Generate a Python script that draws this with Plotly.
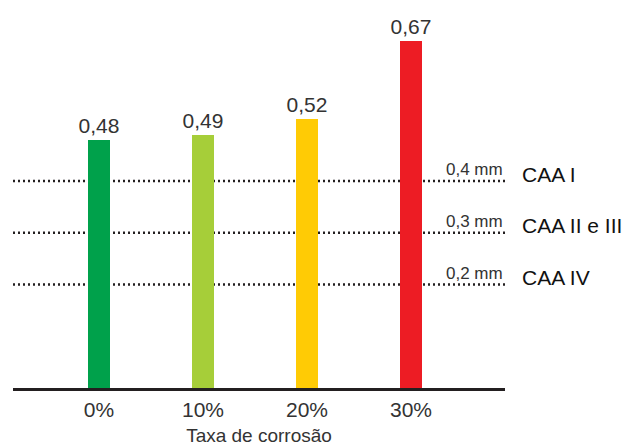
import plotly.graph_objects as go

categories = ["0%", "10%", "20%", "30%"]
values = [0.48, 0.49, 0.52, 0.67]
bar_colors = ["#00A14B", "#A6CE39", "#FFCB05", "#ED1C24"]

limits = [0.4, 0.3, 0.2]
limit_labels = ["0,4 mm", "0,3 mm", "0,2 mm"]
class_labels = ["CAA I", "CAA II e III", "CAA IV"]

x_title = "Taxa de corrosão"

FONT = "Arial, 'Liberation Sans', sans-serif"
TXT = "#231F20"

xpos = list(range(len(categories)))

fig = go.Figure()
fig.add_trace(go.Bar(
    x=xpos, y=values, width=0.21,
    marker=dict(color=bar_colors, line=dict(width=0)),
    texttemplate="%{y:.2f}", textposition="outside", constraintext="none",
    textfont=dict(family=FONT, size=21, color="#333333"),
    cliponaxis=False, showlegend=False,
))

for v, lab, cls in zip(limits, limit_labels, class_labels):
    fig.add_shape(type="line", xref="paper", yref="y", x0=0, x1=1, y0=v, y1=v,
                  line=dict(color=TXT, width=2.5, dash="2px,3px"), layer="below")
    fig.add_annotation(x=3.9, y=v, xref="x", yref="y", text=lab, showarrow=False,
                       xanchor="right", yanchor="bottom", yshift=0,
                       font=dict(family=FONT, size=17, color="#333333"))
    fig.add_annotation(x=1.0305, y=v, xref="paper", yref="y", text=cls, showarrow=False,
                       xanchor="left", yanchor="middle", yshift=7,
                       font=dict(family=FONT, size=21, color="#111111"))

fig.update_layout(
    width=626, height=446,
    margin=dict(l=13, r=121, t=0, b=58),
    paper_bgcolor="white", plot_bgcolor="white",
    separators=",.",
    bargap=0,
)
fig.update_xaxes(
    range=[-0.827, 3.904], tickvals=xpos, ticktext=categories,
    showline=True, linewidth=3, linecolor=TXT, showgrid=False, zeroline=False,
    ticks="", ticklabelstandoff=1, tickfont=dict(family=FONT, size=21, color="#333333"),
    title=dict(text=x_title, font=dict(family=FONT, size=19, color="#333333"), standoff=9),
)
fig.update_yaxes(range=[0, 0.75], visible=False, showgrid=False, zeroline=False)

fig.write_html("out.html")
